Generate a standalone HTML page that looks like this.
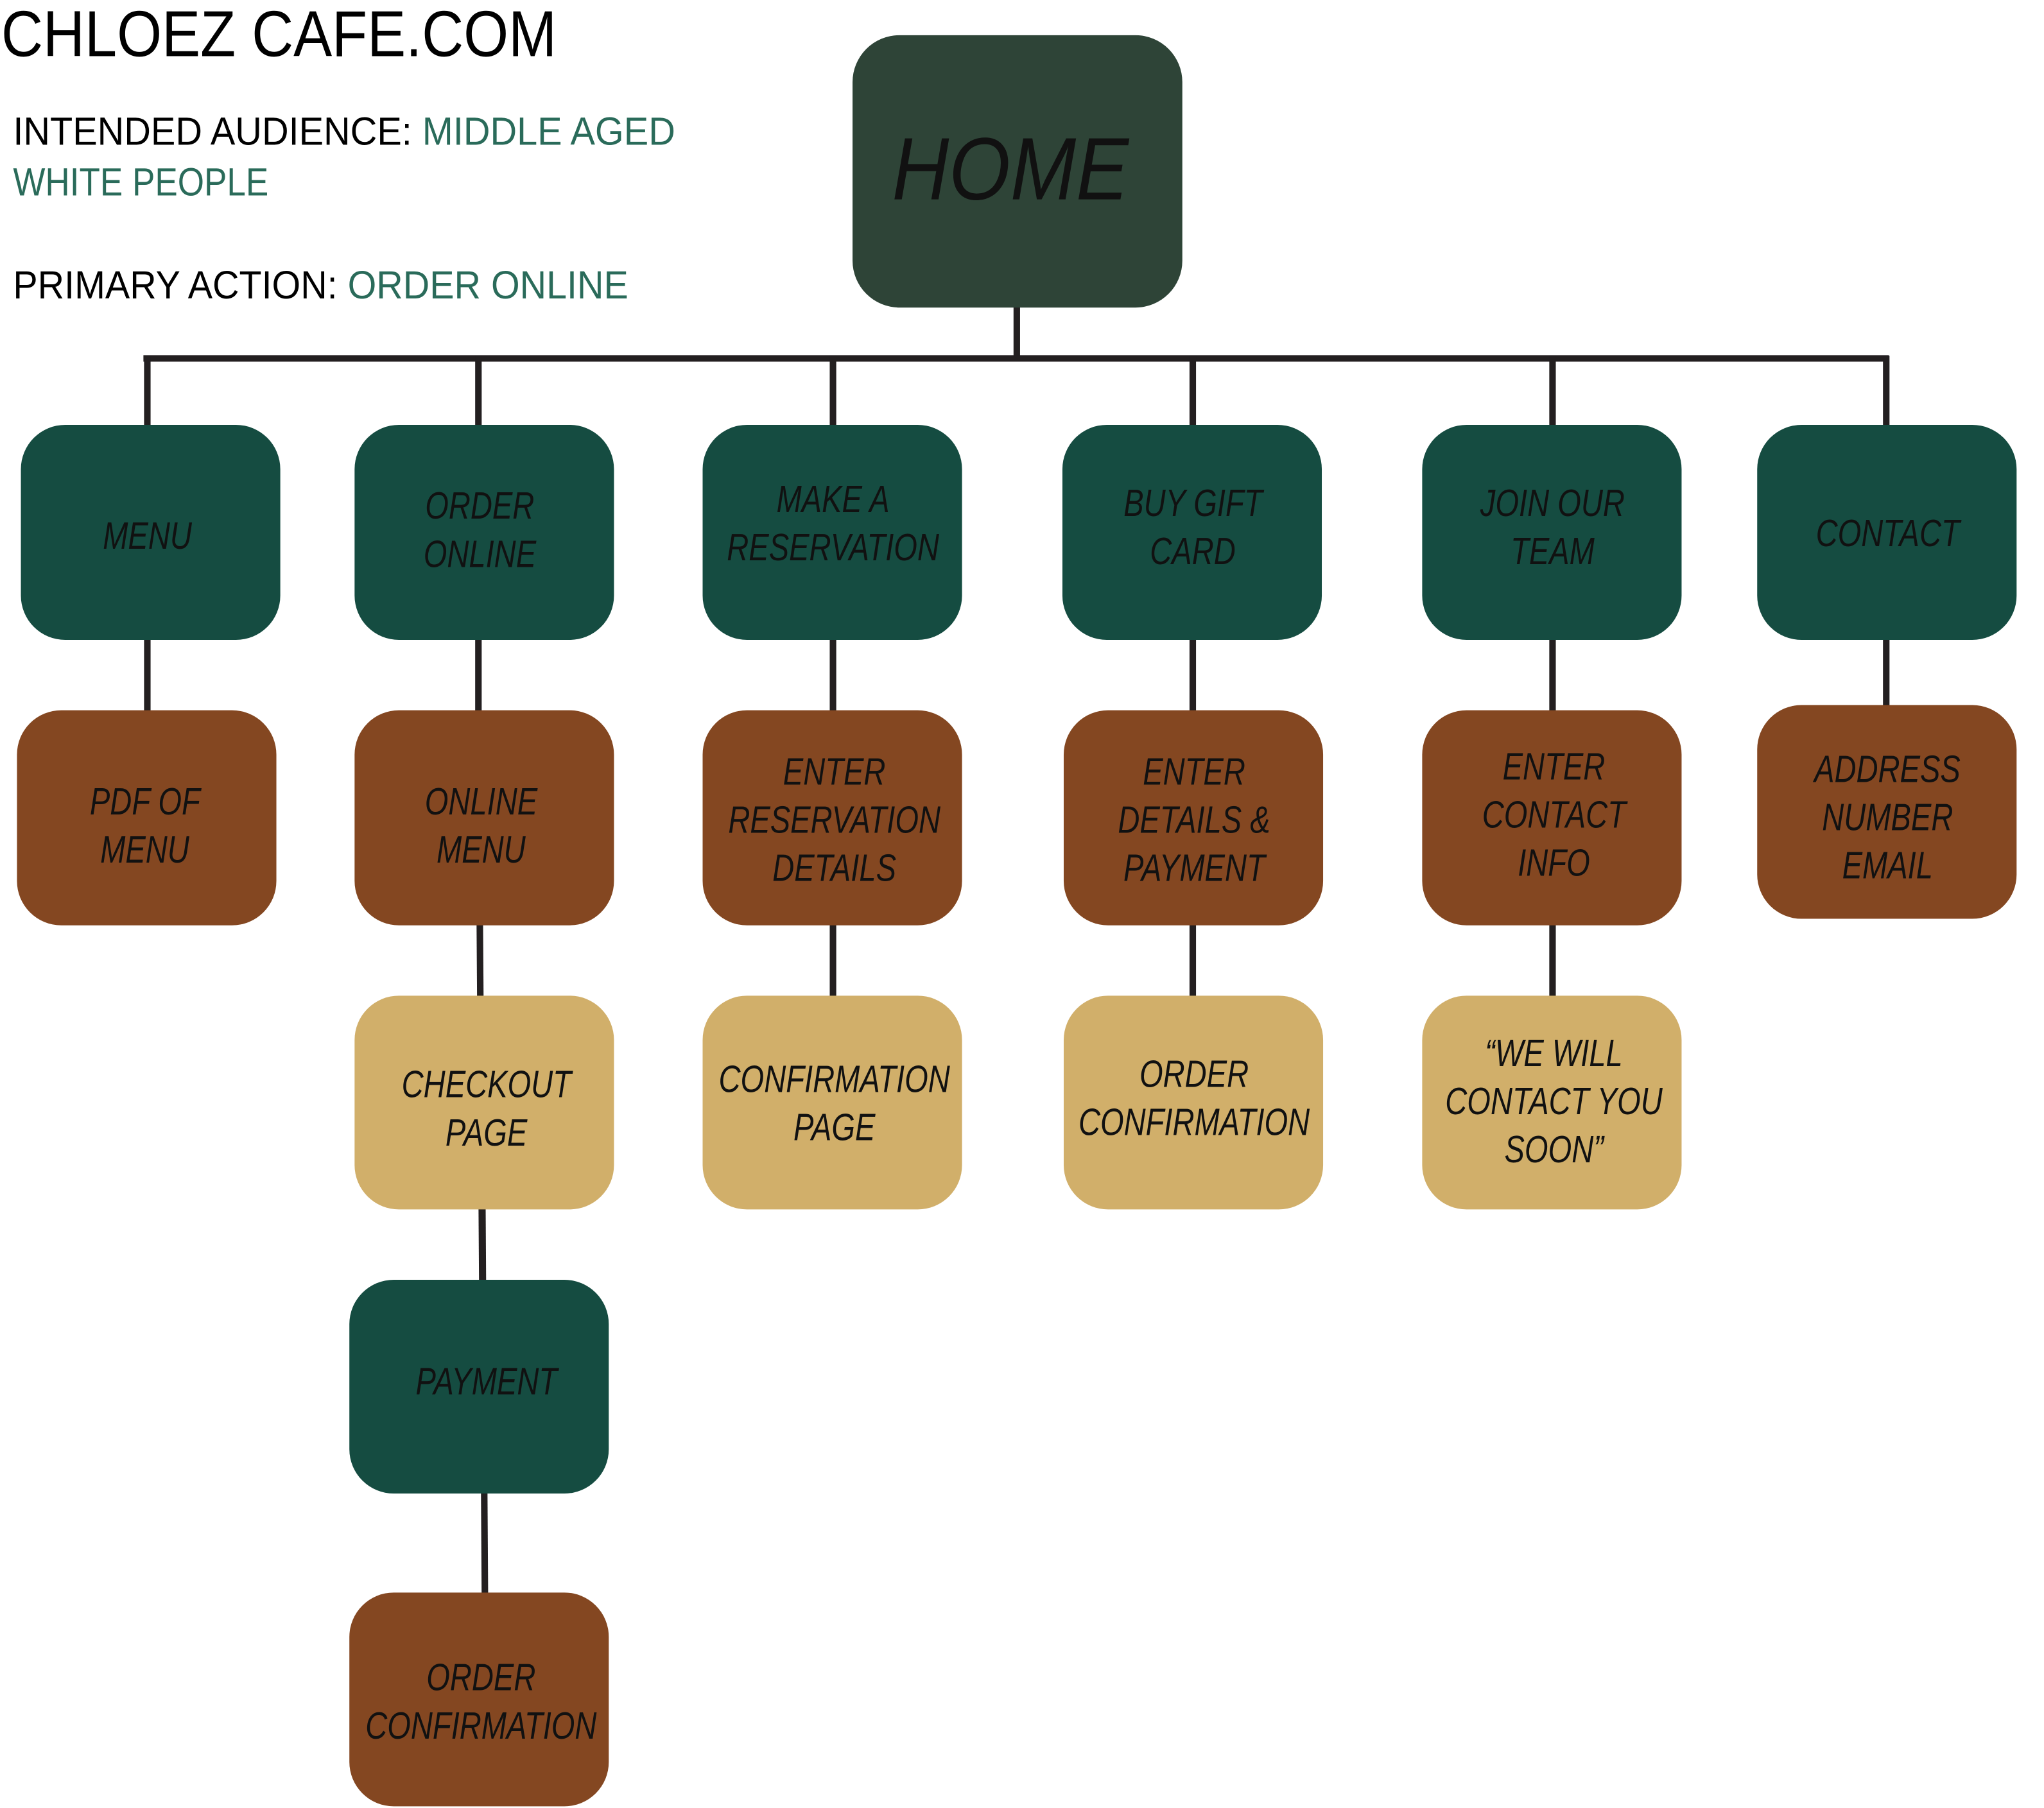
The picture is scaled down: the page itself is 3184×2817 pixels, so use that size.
<!DOCTYPE html>
<html><head><meta charset="utf-8"><style>html,body{margin:0;padding:0;background:#fff}svg{display:block}
.n text{transform-box:fill-box;transform-origin:center;transform:scaleX(0.8)}
.n text.home{transform:scaleX(0.89)}
</style></head>
<body>
<svg width="3184" height="2817" viewBox="0 0 1568 1387.3" xmlns="http://www.w3.org/2000/svg">
<rect width="1568" height="1387.3" fill="#fff"/>
<g font-family="Liberation Sans, sans-serif">
<text x="1" y="43" font-size="50" textLength="426" lengthAdjust="spacingAndGlyphs" fill="#000">CHLOEZ CAFE.COM</text>
<text x="10" y="111" font-size="30" textLength="508" lengthAdjust="spacingAndGlyphs" fill="#000">INTENDED AUDIENCE: <tspan fill="#2a6b5a">MIDDLE AGED</tspan></text>
<text x="10" y="150" font-size="30" textLength="196" lengthAdjust="spacingAndGlyphs" fill="#2a6b5a">WHITE PEOPLE</text>
<text x="10" y="229" font-size="30" textLength="472" lengthAdjust="spacingAndGlyphs" fill="#000">PRIMARY ACTION: <tspan fill="#2a6b5a">ORDER ONLINE</tspan></text>
</g>
<g stroke="#231f20" stroke-width="5" fill="none">
<line x1="780" y1="230" x2="780" y2="275"/>
<line x1="110" y1="275" x2="1449" y2="275"/>
<line x1="113" y1="273" x2="113" y2="550"/>
<line x1="367" y1="273" x2="367" y2="550"/>
<line x1="639" y1="273" x2="639" y2="770"/>
<line x1="915" y1="273" x2="915" y2="770"/>
<line x1="1191" y1="273" x2="1191" y2="770"/>
<line x1="1447" y1="273" x2="1447" y2="545"/>
<line x1="368" y1="700" x2="370" y2="990"/>
<line x1="370" y1="920" x2="372" y2="1230"/>
</g>
<g class="n" font-family="Liberation Sans, sans-serif" font-style="italic" font-size="29" fill="#111" text-anchor="middle">
<g><rect x="654" y="27" width="253" height="209" rx="36" fill="#2e4437"/><text class="home" x="775" y="153" font-size="68">HOME</text></g>

<g><rect x="16" y="326" width="199" height="165" rx="34" fill="#154c41"/><text x="113" y="421">MENU</text></g>
<g><rect x="272" y="326" width="199" height="165" rx="34" fill="#154c41"/><text x="368" y="398">ORDER</text><text x="368" y="435">ONLINE</text></g>
<g><rect x="539" y="326" width="199" height="165" rx="34" fill="#154c41"/><text x="639" y="393">MAKE A</text><text x="639" y="430">RESERVATION</text></g>
<g><rect x="815" y="326" width="199" height="165" rx="34" fill="#154c41"/><text x="915" y="396">BUY GIFT</text><text x="915" y="433">CARD</text></g>
<g><rect x="1091" y="326" width="199" height="165" rx="34" fill="#154c41"/><text x="1191" y="396">JOIN OUR</text><text x="1191" y="433">TEAM</text></g>
<g><rect x="1348" y="326" width="199" height="165" rx="34" fill="#154c41"/><text x="1448" y="419">CONTACT</text></g>

<g><rect x="13" y="545" width="199" height="165" rx="34" fill="#844721"/><text x="111" y="625">PDF OF</text><text x="111" y="662">MENU</text></g>
<g><rect x="272" y="545" width="199" height="165" rx="34" fill="#844721"/><text x="369" y="625">ONLINE</text><text x="369" y="662">MENU</text></g>
<g><rect x="539" y="545" width="199" height="165" rx="34" fill="#844721"/><text x="640" y="602">ENTER</text><text x="640" y="639">RESERVATION</text><text x="640" y="676">DETAILS</text></g>
<g><rect x="816" y="545" width="199" height="165" rx="34" fill="#844721"/><text x="916" y="602">ENTER</text><text x="916" y="639">DETAILS &amp;</text><text x="916" y="676">PAYMENT</text></g>
<g><rect x="1091" y="545" width="199" height="165" rx="34" fill="#844721"/><text x="1192" y="598">ENTER</text><text x="1192" y="635">CONTACT</text><text x="1192" y="672">INFO</text></g>
<g><rect x="1348" y="541" width="199" height="164" rx="34" fill="#844721"/><text x="1448" y="600">ADDRESS</text><text x="1448" y="637">NUMBER</text><text x="1448" y="674">EMAIL</text></g>

<g><rect x="272" y="764" width="199" height="164" rx="34" fill="#d1af6a"/><text x="373" y="842">CHECKOUT</text><text x="373" y="879">PAGE</text></g>
<g><rect x="539" y="764" width="199" height="164" rx="34" fill="#d1af6a"/><text x="640" y="838">CONFIRMATION</text><text x="640" y="875">PAGE</text></g>
<g><rect x="816" y="764" width="199" height="164" rx="34" fill="#d1af6a"/><text x="916" y="834">ORDER</text><text x="916" y="871">CONFIRMATION</text></g>
<g><rect x="1091" y="764" width="199" height="164" rx="34" fill="#d1af6a"/><text x="1192" y="818">“WE WILL</text><text x="1192" y="855">CONTACT YOU</text><text x="1192" y="892">SOON”</text></g>

<g><rect x="268" y="982" width="199" height="164" rx="34" fill="#154c41"/><text x="373" y="1070">PAYMENT</text></g>
<g><rect x="268" y="1222" width="199" height="164" rx="34" fill="#844721"/><text x="369" y="1297">ORDER</text><text x="369" y="1334">CONFIRMATION</text></g>
</g>
</svg>
</body></html>
